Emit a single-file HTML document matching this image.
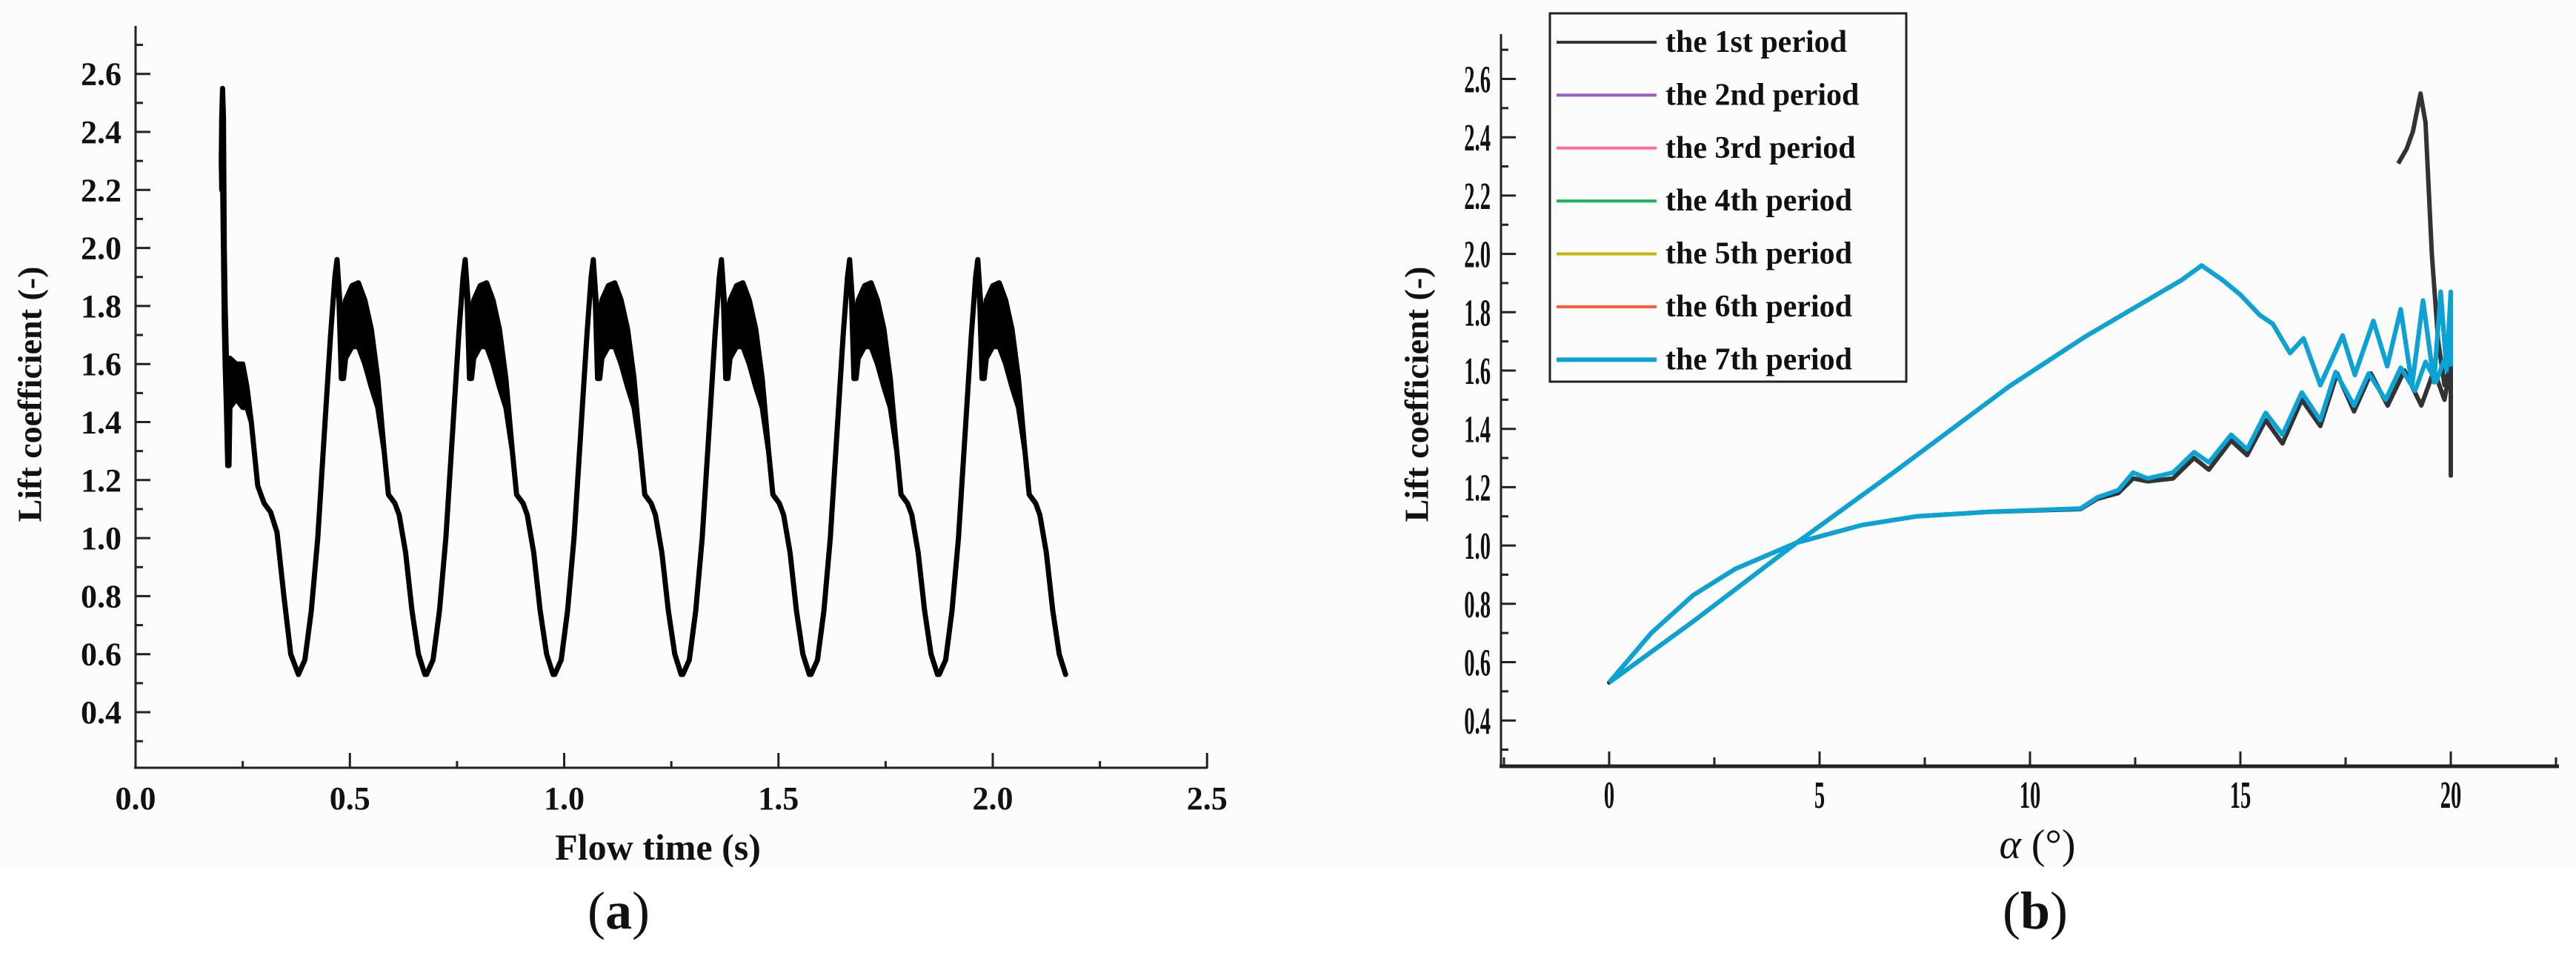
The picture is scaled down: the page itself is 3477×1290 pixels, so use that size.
<!DOCTYPE html>
<html><head><meta charset="utf-8"><style>
html,body{margin:0;padding:0;background:#fff}
svg{display:block}
.tk{font-family:"Liberation Serif",serif;font-weight:bold;font-size:44px;fill:#111}
.cd{font-family:"Liberation Serif",serif;font-weight:bold;font-size:52px;fill:#111}
</style></head><body>
<svg id="fig" width="3477" height="1290" viewBox="0 0 3477 1290" xmlns="http://www.w3.org/2000/svg">
<rect x="0" y="0" width="3477" height="1170" fill="#fcfcfc"/>
<g id="left"></g>
<g id="right"></g>
<text x="40" y="532" transform="rotate(-90 40 532)" text-anchor="middle" dominant-baseline="central" font-family="Liberation Serif, serif" font-weight="bold" font-size="46" fill="#111">Lift coefficient (-)</text>
<text x="888" y="1160" text-anchor="middle" font-family="Liberation Serif, serif" font-weight="bold" font-size="50" fill="#111">Flow time (s)</text>
<text x="835" y="1253" text-anchor="middle" font-family="Liberation Serif, serif" font-size="72" fill="#111">(<tspan font-weight="bold">a</tspan>)</text>
<text x="1912" y="532" transform="rotate(-90 1912 532)" text-anchor="middle" dominant-baseline="central" font-family="Liberation Serif, serif" font-weight="bold" font-size="46" fill="#111">Lift coefficient (-)</text>
<text x="2750" y="1158" text-anchor="middle" font-family="Liberation Serif, serif" font-size="56" fill="#111"><tspan font-style="italic">α</tspan> (°)</text>
<text x="2747" y="1253" text-anchor="middle" font-family="Liberation Serif, serif" font-size="72" fill="#111">(<tspan font-weight="bold">b</tspan>)</text>
</svg>
<script>
// ---- Chart (a) data ----
const aXTicks = [0.0, 0.5, 1.0, 1.5, 2.0, 2.5];
const aYTicks = [0.4, 0.6, 0.8, 1.0, 1.2, 1.4, 1.6, 1.8, 2.0, 2.2, 2.4, 2.6];
const transT  = [0.200,0.201,0.203,0.205,0.207,0.209,0.212,0.215,0.218,0.220,0.235,0.250,0.260,0.270,0.285,0.300,0.315,0.330,0.346,0.362,0.380];
const transUp = [2.30,2.45,2.55,2.45,2.00,1.80,1.62,1.62,1.62,1.62,1.60,1.60,1.52,1.40,1.18,1.12,1.09,1.02,0.80,0.60,0.53];
const transLo = [2.30,2.20,2.25,2.00,1.75,1.60,1.45,1.25,1.25,1.45,1.48,1.45,1.45,1.40,1.18,1.12,1.09,1.02,0.80,0.60,0.53];
const cycleStarts = [0.380,0.679,0.978,1.277,1.576,1.875];
const cycleDt = [0,0.015,0.03,0.045,0.06,0.075,0.085,0.09,0.095,0.10,0.105,0.11,0.125,0.14,0.155,0.17,0.185,0.20,0.21,0.225,0.235,0.25,0.265,0.28,0.295];
const cycleUp = [0.53,0.58,0.75,1.00,1.35,1.70,1.90,1.96,1.85,1.75,1.75,1.82,1.87,1.88,1.82,1.72,1.55,1.30,1.15,1.12,1.08,0.95,0.75,0.60,0.53];
const cycleLo = [0.53,0.58,0.75,1.00,1.35,1.70,1.90,1.96,1.80,1.55,1.55,1.62,1.66,1.66,1.60,1.52,1.45,1.30,1.15,1.12,1.08,0.95,0.75,0.60,0.53];

// ---- Chart (b) data ----
const bXTicks = [0, 5, 10, 15, 20];
const bYTicks = [0.4, 0.6, 0.8, 1.0, 1.2, 1.4, 1.6, 1.8, 2.0, 2.2, 2.4, 2.6];
const seriesNames = ["the 1st period","the 2nd period","the 3rd period","the 4th period","the 5th period","the 6th period","the 7th period"];
const seriesColors = ["#333333","#9b59c6","#ff6f91","#19b354","#c8b400","#ff5a3c","#0aa3d6"];
const lowAlpha = [0,1,2,3,4.46,6,7.3,9,11.2,11.6,12.1,12.45,12.8,13.4,13.9,14.25,14.78,15.16,15.6,16.0,16.46,16.9,17.26,17.7,18.05,18.45,18.81,19.15,19.4,19.65,19.85,20];
const lowCl    = [0.53,0.70,0.83,0.92,1.01,1.07,1.10,1.115,1.127,1.165,1.19,1.25,1.23,1.25,1.32,1.285,1.38,1.33,1.455,1.38,1.525,1.43,1.595,1.48,1.59,1.50,1.61,1.53,1.63,1.56,1.64,1.62];
const upAlpha  = [20,19.9,19.76,19.6,19.34,19.08,18.81,18.49,18.16,17.72,17.43,16.9,16.5,16.18,15.77,15.46,15.0,14.58,14.08,13.6,11.3,9.5,6.8,4.46,2,0];
const upCl     = [1.87,1.60,1.87,1.56,1.84,1.55,1.81,1.615,1.77,1.585,1.72,1.55,1.71,1.66,1.76,1.79,1.86,1.91,1.96,1.91,1.715,1.545,1.255,1.01,0.74,0.53];
const firstStartAlpha = [18.75,18.95,19.1,19.28,19.4,19.55,19.7,19.85,20,20];
const firstStartCl    = [2.31,2.36,2.42,2.55,2.45,2.00,1.70,1.55,1.62,1.24];
const firstLowAlpha = [0,1,2,3,4.46,6,7.3,9,11.2,11.6,12.1,12.45,12.8,13.4,13.9,14.25,14.78,15.16,15.6,16.0,16.46,16.9,17.3,17.7,18.1,18.5,18.9,19.3,19.6,19.85,20,20];
const firstLowCl    = [0.53,0.70,0.83,0.92,1.01,1.07,1.10,1.115,1.125,1.16,1.18,1.23,1.22,1.23,1.30,1.26,1.36,1.31,1.43,1.35,1.50,1.41,1.59,1.46,1.59,1.48,1.60,1.48,1.60,1.50,1.62,1.24];

const NS = "http://www.w3.org/2000/svg";
function mk(parent, tag, attrs){ const e=document.createElementNS(NS,tag); for(const k in attrs) e.setAttribute(k,attrs[k]); parent.appendChild(e); return e; }

// ---- draw (a) ----
const L = document.getElementById('left');
const ax = t => 183 + t*578.5;
const ay = v => 961 - (v-0.4)*391.5;
let e;
e = mk(L,'line',{x1:183,y1:35,x2:183,y2:1036,stroke:'#222','stroke-width':3});
 
e = mk(L,'line',{x1:181,y1:1036,x2:ax(2.5)+1,y2:1036,stroke:'#222','stroke-width':3});
 
for (let i=0;i<aYTicks.length;i++){
  const v=aYTicks[i];
  e = mk(L,'line',{x1:183,y1:ay(v),x2:203,y2:ay(v),stroke:'#222','stroke-width':3});
   
  const m = ay(v+0.1);
  e = mk(L,'line',{x1:183,y1:m,x2:193,y2:m,stroke:'#222','stroke-width':3});
   
  e = mk(L,'text',{x:164,y:ay(v)+15,'text-anchor':'end','class':'tk'}); e.textContent=v.toFixed(1);
   
}
e = mk(L,'line',{x1:183,y1:ay(0.3),x2:193,y2:ay(0.3),stroke:'#222','stroke-width':3});
 
for (let i=0;i<aXTicks.length;i++){
  const t=aXTicks[i];
  e = mk(L,'line',{x1:ax(t),y1:1036,x2:ax(t),y2:1016,stroke:'#222','stroke-width':3});
   
  if (i<aXTicks.length-1){
    e = mk(L,'line',{x1:ax(t+0.25),y1:1036,x2:ax(t+0.25),y2:1027,stroke:'#222','stroke-width':3});
     
  }
  e = mk(L,'text',{x:ax(t),y:1092,'text-anchor':'middle','class':'tk'}); e.textContent=t.toFixed(1);
   
}
function band(ts, up, lo, name){
  let pts=[];
  for(let i=0;i<ts.length;i++) pts.push(ax(ts[i]).toFixed(1)+','+ay(up[i]).toFixed(1));
  for(let i=ts.length-1;i>=0;i--) pts.push(ax(ts[i]).toFixed(1)+','+ay(lo[i]).toFixed(1));
  const p = mk(L,'polygon',{points:pts.join(' '),fill:'#000',stroke:'#000','stroke-width':7,'stroke-linejoin':'round'});
  
  
}
band(transT, transUp, transLo, 'lift-series-transient');
for (let c=0;c<cycleStarts.length;c++){
  const ts = cycleDt.map(d=>cycleStarts[c]+d);
  band(ts, cycleUp, cycleLo, 'lift-series-cycle');
}

// ---- draw (b) ----
const R = document.getElementById('right');
const bx = a => 2172 + a*56.8;
const by = v => 500 - (v-1.6)*393.5;
e = mk(R,'line',{x1:2026,y1:46,x2:2026,y2:1034,stroke:'#222','stroke-width':3});
 
e = mk(R,'line',{x1:2024,y1:1034,x2:3454,y2:1034,stroke:'#222','stroke-width':5});
 
for (let i=0;i<bYTicks.length;i++){
  const v=bYTicks[i];
  e = mk(R,'line',{x1:2026,y1:by(v),x2:2046,y2:by(v),stroke:'#222','stroke-width':3});
   
  const m=by(v+0.1);
  e = mk(R,'line',{x1:2026,y1:m,x2:2036,y2:m,stroke:'#222','stroke-width':3});
   
  e = mk(R,'text',{x:0,y:0,'text-anchor':'end','class':'cd',transform:'translate(2012,'+(by(v)+18)+') scale(0.55,1)'}); e.textContent=v.toFixed(1);
   
}
e = mk(R,'line',{x1:2026,y1:by(0.3),x2:2036,y2:by(0.3),stroke:'#222','stroke-width':3});
 
for (let i=0;i<bXTicks.length;i++){
  const a=bXTicks[i];
  e = mk(R,'line',{x1:bx(a),y1:1034,x2:bx(a),y2:1014,stroke:'#222','stroke-width':3});
   
  e = mk(R,'line',{x1:bx(a+2.5),y1:1034,x2:bx(a+2.5),y2:1022,stroke:'#222','stroke-width':3});
   
  e = mk(R,'text',{x:0,y:0,'text-anchor':'middle','class':'cd',transform:'translate('+bx(a)+',1090) scale(0.55,1)'}); e.textContent=String(a);
   
}
e = mk(R,'line',{x1:bx(-2.5),y1:1034,x2:bx(-2.5),y2:1022,stroke:'#222','stroke-width':3});
 

function pathFrom(listA, listC){
  let d='';
  for(let s=0;s<listA.length;s++){
    const A=listA[s], C=listC[s];
    for(let i=0;i<A.length;i++) d += (d===''?'M':'L') + bx(A[i]).toFixed(1)+','+by(C[i]).toFixed(1);
  }
  return d;
}
e = mk(R,'path',{d:pathFrom([firstStartAlpha, upAlpha, firstLowAlpha],[firstStartCl, upCl, firstLowCl]),fill:'none',stroke:seriesColors[0],'stroke-width':6,'stroke-linejoin':'round'});
 
for (let s=1;s<7;s++){
  e = mk(R,'path',{d:pathFrom([lowAlpha, upAlpha],[lowCl, upCl]),fill:'none',stroke:seriesColors[s],'stroke-width':(s===6?6:5),'stroke-linejoin':'round'});
   
}
const lg = mk(R,'g',{});
 
e = mk(lg,'rect',{x:2092,y:18,width:481,height:497,fill:'#fcfcfc',stroke:'#222','stroke-width':3});
 
for (let s=0;s<7;s++){
  const yy = 57 + s*71.4;
  e = mk(lg,'line',{x1:2101,y1:yy,x2:2236,y2:yy,stroke:seriesColors[s],'stroke-width':(s===6?6:4)});
   
  e = mk(lg,'text',{x:2248,y:yy+13,'font-family':'Liberation Serif, serif','font-weight':'bold','font-size':42,fill:'#111'});
  e.textContent = seriesNames[s];
   
}
</script>
</body></html>
